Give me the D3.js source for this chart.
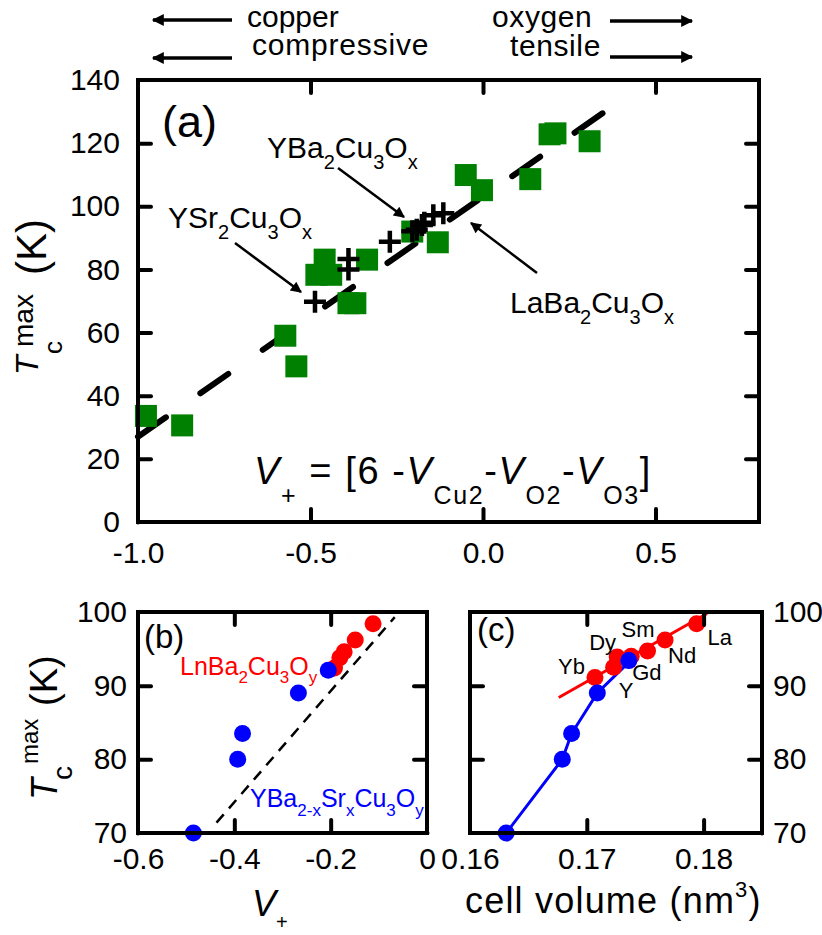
<!DOCTYPE html>
<html>
<head>
<meta charset="utf-8">
<script src="https://cdn.jsdelivr.net/npm/d3@7"></script>
<style>
  body { margin: 0; background: #fff; }
  svg text { font-family: Arial, "Liberation Sans", sans-serif; fill: #000; }
</style>
</head>
<body>
<svg id="fig" width="822" height="935"></svg>
<script>
// ---- panel (a) : Tc max against V+ ----
const greenV = [-0.977, -0.872, -0.573, -0.541, -0.483, -0.440, -0.459, -0.336, -0.390, -0.370,
                -0.205, -0.131, -0.050, -0.003, 0.137, 0.193, 0.210, 0.309];
const greenT = [33.6, 30.6, 59.0, 49.3, 78.3, 78.3, 83.1, 83.1, 69.3, 69.3,
                92.0, 88.6, 109.9, 105.1, 108.6, 122.8, 123.1, 120.6];
const crossV = [-0.487, -0.390, -0.390, -0.270, -0.205, -0.192, -0.177, -0.170, -0.144, -0.115];
const crossT = [69.8, 80.0, 83.3, 88.8, 92.1, 92.6, 94.1, 94.8, 97.2, 97.8];
const fitAV = [-1.0, 0.351];
const fitAT = [27.0, 129.8];
const xTicksA = [-1.0, -0.5, 0.0, 0.5];
const yTicksA = [0, 20, 40, 60, 80, 100, 120, 140];

// ---- panel (b) ----
const lnbV = [-0.192, -0.181, -0.172, -0.149, -0.112];
const lnbT = [92.4, 93.8, 94.6, 96.2, 98.4];
const ybsV = [-0.485, -0.393, -0.383, -0.267, -0.205];
const ybsT = [70.0, 80.0, 83.5, 89.0, 92.1];
const fitBV = [-0.437, -0.067];
const fitBT = [71.4, 99.3];
const xTicksB = [-0.6, -0.4, -0.2, 0];
const yTicksB = [70, 80, 90, 100];

// ---- panel (c) : Tc max against cell volume ----
const lnNames = ["Yb", "Y", "Dy", "Gd", "Sm", "Nd", "La"];
const lnVol = [0.1707, 0.1723, 0.1726, 0.1738, 0.1752, 0.1767, 0.1794];
const lnTc = [91.1, 92.5, 93.9, 94.0, 94.7, 96.2, 98.4];
const ybsVol = [0.1631, 0.1679, 0.1687, 0.1709, 0.1736];
const ybsTc = [70.0, 80.0, 83.5, 89.0, 93.4];
const redFitVol = [0.1676, 0.1803];
const redFitTc = [88.4, 99.8];
const blueFitVol = [0.1631, 0.1679, 0.1687, 0.1709, 0.1740];
const blueFitTc = [70.0, 80.0, 83.5, 89.0, 93.8];
const xTicksC = [0.16, 0.17, 0.18];

const svg = d3.select("#fig");
const GREEN = "#008000", RED = "#ff0000", BLUE = "#0000ff";
// plain hyphen for negative tick labels, like the original
const loc = d3.formatLocale({ decimal: ".", thousands: ",", grouping: [3], currency: ["", ""], minus: "-" });

// arrow heads
const defs = svg.append("defs");
defs.append("marker").attr("id", "head")
  .attr("viewBox", "0 0 10 10").attr("refX", 9).attr("refY", 5)
  .attr("markerUnits", "userSpaceOnUse").attr("markerWidth", 15).attr("markerHeight", 11)
  .attr("orient", "auto")
  .append("path").attr("d", "M0,0L10,5L0,10Z").attr("fill", "#000");
defs.append("marker").attr("id", "bighead")
  .attr("viewBox", "0 0 10 10").attr("refX", 9).attr("refY", 5)
  .attr("markerUnits", "userSpaceOnUse").attr("markerWidth", 17).attr("markerHeight", 12)
  .attr("orient", "auto")
  .append("path").attr("d", "M0,0L10,5L0,10Z").attr("fill", "#000");

// write a text made of [string, kind] parts, kind = "" | "sub" | "sup" | "i"
function richText(g, x, y, parts, size, subSize, shift, color, spacing) {
  const t = g.append("text").attr("x", x).attr("y", y)
    .attr("font-size", size).style("fill", color || "#000");
  if (spacing) t.attr("letter-spacing", spacing);
  let cur = 0;
  parts.forEach(function(p) {
    const s = t.append("tspan").text(p[0]);
    let want = 0;
    if (p[1] == "sub") { want = shift; s.attr("font-size", subSize); }
    if (p[1] == "sup") { want = -shift; s.attr("font-size", subSize); }
    if (p[1] == "i") s.attr("font-style", "italic");
    if (want != cur) { s.attr("dy", want - cur); cur = want; }
  });
  return t;
}

// frame with inward ticks on all four sides
function frame(g, x, y, xt, yt, opts) {
  const [x0, x1] = x.range(), [y0, y1] = y.range();
  const fix = function(sel) {
    sel.select(".domain").remove();
    sel.selectAll("line").attr("stroke", "#000").attr("stroke-width", 4).attr("stroke-linecap", "round");
    sel.selectAll("text").attr("font-size", 30).attr("font-family", null).style("fill", "#000");
  };
  const inner = xt.filter(v => x(v) > x0 + 3 && x(v) < x1 - 3);
  const innerY = yt.filter(v => y(v) < y0 - 3 && y(v) > y1 + 3);
  g.append("g").attr("transform", `translate(0,${y0})`)
    .call(d3.axisBottom(x).tickValues(xt).tickSize(0).tickPadding(opts.xPad).tickFormat(opts.xFmt)).call(fix);
  g.append("g").attr("transform", `translate(0,${y0})`)
    .call(d3.axisBottom(x).tickValues(inner).tickSize(-13).tickFormat("")).call(fix);
  g.append("g").attr("transform", `translate(0,${y1})`)
    .call(d3.axisTop(x).tickValues(inner).tickSize(-13).tickFormat("")).call(fix);
  const yl = opts.yRight ? d3.axisRight(y) : d3.axisLeft(y);
  g.append("g").attr("transform", `translate(${opts.yRight ? x1 : x0},0)`)
    .call(yl.tickValues(yt).tickSize(0).tickPadding(opts.yPad).tickFormat(d3.format("d"))).call(fix);
  g.append("g").attr("transform", `translate(${x0},0)`)
    .call(d3.axisLeft(y).tickValues(innerY).tickSize(-13).tickFormat("")).call(fix);
  g.append("g").attr("transform", `translate(${x1},0)`)
    .call(d3.axisRight(y).tickValues(innerY).tickSize(-13).tickFormat("")).call(fix);
  g.append("rect").attr("x", x0).attr("y", y1).attr("width", x1 - x0).attr("height", y0 - y1)
    .attr("fill", "none").attr("stroke", "#000").attr("stroke-width", 4);
}

// ================= panel (a) =================
const xa = d3.scaleLinear().domain([-1.0, 0.8]).range([138, 759]);
const ya = d3.scaleLinear().domain([0, 140]).range([522, 80]);
const ga = svg.append("g");

ga.append("path")
  .attr("d", d3.line()(fitAV.map((v, i) => [xa(v), ya(fitAT[i])])))
  .attr("fill", "none").attr("stroke", "#000").attr("stroke-width", 6)
  .attr("stroke-linecap", "round").attr("stroke-dasharray", "34,42");

ga.selectAll("rect.sq").data(greenV).enter().append("rect").attr("class", "sq")
  .attr("x", (d) => xa(d) - 11).attr("y", (d, i) => ya(greenT[i]) - 11)
  .attr("width", 22).attr("height", 22).attr("fill", GREEN);

ga.selectAll("path.cross").data(crossV).enter().append("path").attr("class", "cross")
  .attr("transform", (d, i) => `translate(${xa(d)},${ya(crossT[i])})`)
  .attr("d", "M-11,0H11M0,-11V11").attr("stroke", "#000").attr("stroke-width", 4.5);

frame(ga, xa, ya, xTicksA, yTicksA, { xPad: 20, yPad: 18, xFmt: loc.format(".1f") });

ga.append("text").attr("x", 162).attr("y", 137).attr("font-size", 45).text("(a)");

richText(ga, 267, 158, [["YBa", ""], ["2", "sub"], ["Cu", ""], ["3", "sub"], ["O", ""], ["x", "sub"]], 30, 20, 11);
richText(ga, 168, 228, [["YSr", ""], ["2", "sub"], ["Cu", ""], ["3", "sub"], ["O", ""], ["x", "sub"]], 30, 20, 11);
richText(ga, 510, 313, [["LaBa", ""], ["2", "sub"], ["Cu", ""], ["3", "sub"], ["O", ""], ["x", "sub"]], 30, 20, 11);

const pointers = [[338, 168, 404, 217], [235, 243, 301, 292], [537, 273, 471, 223]];
pointers.forEach(function(p) {
  ga.append("line").attr("x1", p[0]).attr("y1", p[1]).attr("x2", p[2]).attr("y2", p[3])
    .attr("stroke", "#000").attr("stroke-width", 2.5).attr("marker-end", "url(#head)");
});

richText(ga, 254, 484, [["V", "i"], ["+", "sub"], [" = [6 -", ""], ["V", "i"], ["Cu2", "sub"], ["-", ""],
  ["V", "i"], ["O2", "sub"], ["-", ""], ["V", "i"], ["O3", "sub"], ["]", ""]], 38, 25, 20, null, 1.6);

// y title (a)
const ta = ga.append("g").attr("transform", "rotate(-90)");
ta.append("text").attr("x", -375).attr("y", 38).attr("font-size", 32).attr("font-style", "italic").text("T");
ta.append("text").attr("x", -354).attr("y", 62).attr("font-size", 26).text("c");
ta.append("text").attr("x", -347).attr("y", 33).attr("font-size", 28).text("max");
ta.append("text").attr("x", -275).attr("y", 46).attr("font-size", 42).text("(K)");

// top strain arrows
const topArrows = [[232, 20, 153, 20], [232, 58, 153, 58], [610, 21, 692, 21], [610, 57, 692, 57]];
topArrows.forEach(function(p) {
  svg.append("line").attr("x1", p[0]).attr("y1", p[1]).attr("x2", p[2]).attr("y2", p[3])
    .attr("stroke", "#000").attr("stroke-width", 3.5).attr("marker-end", "url(#bighead)");
});
svg.append("text").attr("x", 247).attr("y", 27).attr("font-size", 30).text("copper");
svg.append("text").attr("x", 252).attr("y", 55).attr("font-size", 30).attr("letter-spacing", 0.8).text("compressive");
svg.append("text").attr("x", 492).attr("y", 27).attr("font-size", 30).attr("letter-spacing", 0.6).text("oxygen");
svg.append("text").attr("x", 510).attr("y", 56).attr("font-size", 30).attr("letter-spacing", 0.6).text("tensile");

// ================= panel (b) =================
const xb = d3.scaleLinear().domain([-0.6, 0]).range([138, 427]);
const yb = d3.scaleLinear().domain([70, 100]).range([833, 612]);
const gb = svg.append("g");

gb.append("path")
  .attr("d", d3.line()(fitBV.map((v, i) => [xb(v), yb(fitBT[i])])))
  .attr("fill", "none").attr("stroke", "#000").attr("stroke-width", 2.5).attr("stroke-dasharray", "11,8");

gb.selectAll("circle.ln").data(lnbV).enter().append("circle").attr("class", "ln")
  .attr("cx", (d) => xb(d)).attr("cy", (d, i) => yb(lnbT[i])).attr("r", 8.5).attr("fill", RED);
gb.selectAll("circle.ybs").data(ybsV).enter().append("circle").attr("class", "ybs")
  .attr("cx", (d) => xb(d)).attr("cy", (d, i) => yb(ybsT[i])).attr("r", 8.5).attr("fill", BLUE);

frame(gb, xb, yb, xTicksB, yTicksB, { xPad: 15, yPad: 11, xFmt: (d) => d == 0 ? "0" : loc.format(".1f")(d) });

gb.append("text").attr("x", 144).attr("y", 648).attr("font-size", 33).text("(b)");
richText(gb, 180, 675, [["LnBa", ""], ["2", "sub"], ["Cu", ""], ["3", "sub"], ["O", ""], ["y", "sub"]], 25, 17, 8, RED);
richText(gb, 250, 807, [["YBa", ""], ["2-x", "sub"], ["Sr", ""], ["x", "sub"], ["Cu", ""], ["3", "sub"], ["O", ""], ["y", "sub"]], 25, 17, 9, BLUE);

const tb = gb.append("g").attr("transform", "rotate(-90)");
tb.append("text").attr("x", -800).attr("y", 57).attr("font-size", 36).attr("font-style", "italic").text("T");
tb.append("text").attr("x", -780).attr("y", 72).attr("font-size", 28).text("c");
tb.append("text").attr("x", -764).attr("y", 38).attr("font-size", 24).text("max");
tb.append("text").attr("x", -706).attr("y", 57).attr("font-size", 38).text("(K)");

richText(gb, 252, 916, [["V", "i"], ["+", "sub"]], 36, 20, 13);

// ================= panel (c) =================
const xc = d3.scaleLinear().domain([0.16, 0.185]).range([470, 762]);
const yc = d3.scaleLinear().domain([70, 100]).range([833, 612]);
const gc = svg.append("g");

gc.append("path")
  .attr("d", d3.line()(redFitVol.map((v, i) => [xc(v), yc(redFitTc[i])])))
  .attr("fill", "none").attr("stroke", RED).attr("stroke-width", 3);
gc.append("path")
  .attr("d", d3.line()(blueFitVol.map((v, i) => [xc(v), yc(blueFitTc[i])])))
  .attr("fill", "none").attr("stroke", BLUE).attr("stroke-width", 3);

gc.selectAll("circle.ln").data(lnVol).enter().append("circle").attr("class", "ln")
  .attr("cx", (d) => xc(d)).attr("cy", (d, i) => yc(lnTc[i])).attr("r", 8.5).attr("fill", RED);
gc.selectAll("circle.ybs").data(ybsVol).enter().append("circle").attr("class", "ybs")
  .attr("cx", (d) => xc(d)).attr("cy", (d, i) => yc(ybsTc[i])).attr("r", 8.5).attr("fill", BLUE);

frame(gc, xc, yc, xTicksC, yTicksB, { xPad: 15, yPad: 11, yRight: true, xFmt: d3.format(".2f") });

gc.append("text").attr("x", 477).attr("y", 641).attr("font-size", 33).text("(c)");

// element labels, offsets from each red point
const nameDx = [-37, 5, -28, 1, -26, 3, 11];
const nameDy = [-4, 31, -7, 24, -14, 23, 21];
gc.selectAll("text.el").data(lnNames).enter().append("text").attr("class", "el")
  .attr("x", (d, i) => xc(lnVol[i]) + nameDx[i]).attr("y", (d, i) => yc(lnTc[i]) + nameDy[i])
  .attr("font-size", 22).text((d) => d);

richText(gc, 465, 913, [["cell volume (nm", ""], ["3", "sup"], [")", ""]], 36, 22, 16, null, 1.2);
</script>
</body>
</html>
